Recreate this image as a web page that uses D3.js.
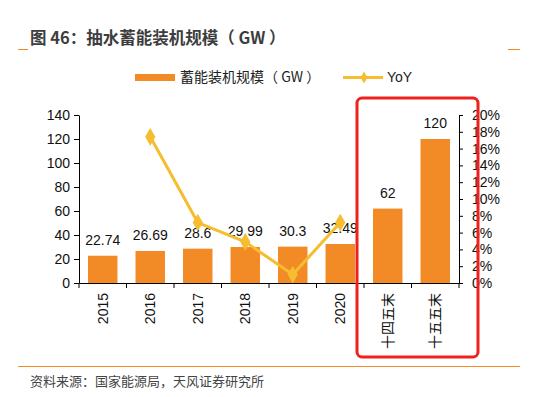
<!DOCTYPE html>
<html lang="zh">
<head>
<meta charset="utf-8">
<title>抽水蓄能装机规模</title>
<script src="https://d3js.org/d3.v7.min.js"></script>
<style>
body{margin:0;background:#fff;}
text{font-family:"Liberation Sans",Arial,"Noto Sans CJK SC",sans-serif;}
.cn{font-family:"Noto Sans CJK SC","Liberation Sans",sans-serif;}
</style>
</head>
<body>
<div id="chart"></div>
<script>
var w = 536, h = 397;
var categories = ["2015","2016","2017","2018","2019","2020","十四五末","十五五末"];
var capacity = [22.74, 26.69, 28.6, 29.99, 30.3, 32.49, 62, 120];
var capLabels = ["22.74","26.69","28.6","29.99","30.3","32.49","62","120"];
var yoy = [null, 0.174, 0.072, 0.049, 0.010, 0.072, null, null];
var leftTicks = [0,20,40,60,80,100,120,140];
var rightTicks = [0,0.02,0.04,0.06,0.08,0.10,0.12,0.14,0.16,0.18,0.20];

var orange = "#f28a26", gold = "#f5bd2f";
var plotL = 79, plotR = 459, plotT = 115, plotB = 283;

var svg = d3.select("#chart").append("svg").attr("width", w).attr("height", h);

var x = d3.scaleBand().domain(categories).range([plotL, plotR]).paddingInner(0.38).paddingOuter(0.19);
var y = d3.scaleLinear().domain([0,140]).range([plotB, plotT]);
var y2 = d3.scaleLinear().domain([0,0.2]).range([plotB, plotT]);

// title
svg.append("text").attr("class","cn").attr("x",30).attr("y",44)
  .attr("font-size",16.5).attr("font-weight","bold").attr("fill","#3d3d3d")
  .text("图 46：抽水蓄能装机规模（ GW ）");
svg.append("line").attr("x1",18).attr("x2",28).attr("y1",49.5).attr("y2",49.5).attr("stroke",orange);
svg.append("line").attr("x1",508).attr("x2",520).attr("y1",49.5).attr("y2",49.5).attr("stroke",orange);

// legend
svg.append("rect").attr("x",135).attr("y",74).attr("width",40).attr("height",7).attr("fill",orange);
svg.append("text").attr("class","cn").attr("x",180).attr("y",82).attr("font-size",14).attr("fill","#222").text("蓄能装机规模（ GW ）");
svg.append("line").attr("x1",343).attr("x2",383).attr("y1",77.5).attr("y2",77.5).attr("stroke",gold).attr("stroke-width",3);
svg.append("path").attr("d",d3.symbol(d3.symbolDiamond,40)).attr("transform","translate(364,77.5)").attr("fill",gold);
svg.append("text").attr("x",387).attr("y",82).attr("font-size",14).attr("fill","#222").text("YoY");

// bars
svg.selectAll("rect.bar").data(capacity).enter().append("rect").attr("class","bar")
  .attr("x", function(d,i){return x(categories[i]);})
  .attr("y", function(d){return y(d);})
  .attr("width", x.bandwidth())
  .attr("height", function(d){return plotB - y(d);})
  .attr("fill", orange);

svg.selectAll("text.val").data(capacity).enter().append("text").attr("class","val")
  .attr("x", function(d,i){return x(categories[i]) + x.bandwidth()/2;})
  .attr("y", function(d){return y(d) - 11;})
  .attr("text-anchor","middle").attr("font-size",14).attr("fill","#111")
  .text(function(d,i){return capLabels[i];});

// axes
var axL = svg.append("g").attr("transform","translate("+plotL+",0)")
  .call(d3.axisLeft(y).tickValues(leftTicks).tickSize(5).tickSizeOuter(0));
var axR = svg.append("g").attr("transform","translate("+plotR+",0)")
  .call(d3.axisRight(y2).tickValues(rightTicks).tickSize(4).tickSizeOuter(0).tickFormat(d3.format(".0%")));
var axB = svg.append("g").attr("transform","translate(0,"+plotB+")")
  .call(d3.axisBottom(x).tickSize(0).tickSizeOuter(0));
[axL, axR, axB].forEach(function(a){
  a.selectAll("path,line").attr("stroke","#000");
  a.selectAll("text").attr("font-size",14).attr("fill","#111").attr("font-family","\"Liberation Sans\",Arial,sans-serif");
});
axL.selectAll("text").attr("x",-9);
axR.selectAll("text").attr("x",13);
// boundaries on x axis
var step = x.step();
var bounds = d3.range(categories.length+1).map(function(i){return plotL + i*step;});
svg.selectAll("line.xt").data(bounds).enter().append("line").attr("class","xt")
  .attr("x1",function(d){return d;}).attr("x2",function(d){return d;})
  .attr("y1",plotB).attr("y2",plotB+5).attr("stroke","#000");
axB.selectAll(".tick text")
  .attr("font-family","\"Noto Sans CJK SC\",\"Liberation Sans\",sans-serif")
  .attr("transform","rotate(-90)")
  .attr("text-anchor","end").attr("x",-10).attr("y",0).attr("dy","0.35em")
  .attr("font-size",14);
axB.selectAll(".tick text").filter(function(d){return /^\d/.test(d);})
  .attr("font-family","\"Liberation Sans\",Arial,sans-serif");

// yoy line
var pts = yoy.map(function(v,i){return {c:categories[i], v:v};}).filter(function(d){return d.v!==null;});
svg.append("path").datum(pts)
  .attr("d", d3.line().x(function(d){return x(d.c)+x.bandwidth()/2;}).y(function(d){return y2(d.v);}))
  .attr("fill","none").attr("stroke",gold).attr("stroke-width",3);
svg.selectAll("path.dm").data(pts).enter().append("path").attr("class","dm")
  .attr("d", d3.symbol(d3.symbolDiamond,90))
  .attr("transform",function(d){return "translate("+(x(d.c)+x.bandwidth()/2)+","+y2(d.v)+")";})
  .attr("fill",gold);

// highlight box
svg.append("rect").attr("x",357).attr("y",98).attr("width",121).attr("height",259)
  .attr("rx",5).attr("fill","none").attr("stroke","#f0201c").attr("stroke-width",3);

// source
svg.append("line").attr("x1",18).attr("x2",520).attr("y1",366.5).attr("y2",366.5).attr("stroke",orange);
svg.append("text").attr("class","cn").attr("x",30).attr("y",386).attr("font-size",13).attr("fill","#444")
  .text("资料来源：国家能源局，天风证券研究所");
</script>
</body>
</html>
